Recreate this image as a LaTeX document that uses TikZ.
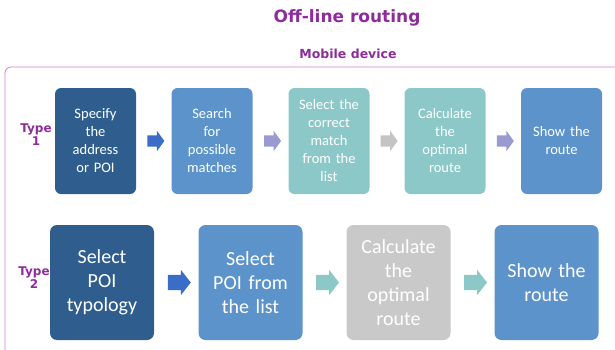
\documentclass[tikz,border=0pt]{standalone}
\usepackage{fontspec}
\setmainfont{Carlito}
\newfontfamily\labelfont{DejaVu Sans}
\usetikzlibrary{shapes.arrows,calc}

\definecolor{titlepurple}{HTML}{8E2C9C}
\definecolor{framepink}{HTML}{D27ED4}
\definecolor{darkblue}{HTML}{2F5E8E}
\definecolor{midblue}{HTML}{5C93CA}
\definecolor{lightteal}{HTML}{8DC8C9}
\definecolor{lightgrey}{HTML}{C9C9C9}
\definecolor{arrblue}{HTML}{3A6DC8}
\definecolor{arrpurple}{HTML}{9A9AD2}
\definecolor{arrgrey}{HTML}{C4C4C4}

\tikzset{
    stepsmall/.style={rounded corners=6pt, minimum width=81pt, minimum height=106pt,
        text width=78pt, align=center, inner sep=0pt, text=white,
        font=\fontsize{14.5}{18}\selectfont},
    stepbig/.style={rounded corners=7pt, minimum width=104pt, minimum height=115pt,
        text width=100pt, align=center, inner sep=0pt, text=white,
        font=\fontsize{20}{24}\selectfont},
    arrsmall/.style={single arrow, single arrow head extend=4.5pt, minimum width=20pt,
        minimum height=17pt, inner xsep=0pt, inner ysep=5.5pt, single arrow tip angle=108},
    arrbig/.style={single arrow, single arrow head extend=5pt, minimum width=25pt,
        minimum height=23pt, inner xsep=0pt, inner ysep=7.5pt, single arrow tip angle=104},
    typelabel/.style={text=titlepurple, align=center, inner sep=0pt,
        font=\labelfont\bfseries\fontsize{12}{13}\selectfont}
}

\begin{document}
\begin{tikzpicture}[x=1pt, y=-1pt]
        \useasboundingbox (0,0) rectangle (615,349);

        % Title and frame
        \node[text=titlepurple, font=\labelfont\bfseries\fontsize{17}{17}\selectfont] (title) at (347,18) {Off-line routing};
        \node[text=titlepurple, font=\labelfont\bfseries\fontsize{12.5}{12.5}\selectfont] (device) at (348,54) {Mobile device};
        \draw[framepink, thick, rounded corners=6pt] (620,67) -- (5,67) -- (5,355);

        % Type 1
        \node[typelabel] (type1) at (36,135) {Type\\1};
        \foreach \n/\x/\c/\t in {
            1/95.5/darkblue/{Specify\\the\\address\\or POI},
            2/212/midblue/{Search\\for\\possible\\matches},
            3/329/lightteal/{Select the\\correct\\match\\from the\\list},
            4/445/lightteal/{Calculate\\the\\optimal\\route},
            5/561.5/midblue/{Show the\\route}
        } {
            \node[stepsmall, fill=\c] (a\n) at (\x,141) {\t};
        }
        \foreach \i/\j/\c in {1/2/arrblue, 2/3/arrpurple, 3/4/arrgrey, 4/5/arrpurple} {
            \node[arrsmall, fill=\c] (pa\i) at ($(a\i.east)!0.5!(a\j.west)$) {};
        }

        % Type 2
        \node[typelabel] (type2) at (34,278) {Type\\2};
        \foreach \n/\x/\c/\t in {
            1/102/darkblue/{Select\\POI\\typology},
            2/250.5/midblue/{Select\\POI from\\the list},
            3/398.5/lightgrey/{Calculate\\the\\optimal\\route},
            4/546.5/midblue/{Show the\\route}
        } {
            \node[stepbig, fill=\c] (b\n) at (\x,282.5) {\t};
        }
        \foreach \i/\j/\c in {1/2/arrblue, 2/3/lightteal, 3/4/lightteal} {
            \node[arrbig, fill=\c] (pb\i) at ($(b\i.east)!0.5!(b\j.west)$) {};
        }
    \end{tikzpicture}
\end{document}
